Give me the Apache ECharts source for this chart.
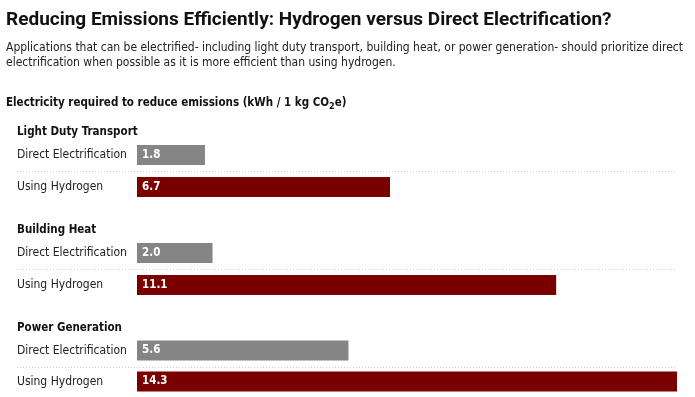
<!DOCTYPE html>
<html>
<head>
<meta charset="utf-8">
<script src="https://cdn.jsdelivr.net/npm/echarts@6/dist/echarts.min.js"></script>
<style>
    html, body { margin: 0; padding: 0; background: #fff; }
    #chart { width: 695px; height: 397px; }
</style>
</head>
<body>
<div id="chart"></div>
<script>
// data
var groups = ['Light Duty Transport', 'Building Heat', 'Power Generation'];
var methods = ['Direct Electrification', 'Using Hydrogen'];
var directValues = [1.8, 2.0, 5.6];
var hydrogenValues = [6.7, 11.1, 14.3];

var colors = ['#858585', '#7a0000'];
var labelFont = '"DejaVu Sans Condensed", Lato, sans-serif';

var gridTop0 = 139, groupStep = 98, rowH = 32, gridLeft = 137, gridRight = 18;

var myChart = echarts.init(document.getElementById('chart'));

var titles = [
    {
        text: 'Reducing Emissions Efficiently: Hydrogen versus Direct Electrification?',
        left: 6, top: 11, padding: 0,
        textStyle: { fontFamily: 'Roboto', fontSize: 19, fontWeight: 'bold', color: '#111' }
    },
    {
        text: 'Applications that can be electrified- including light duty transport, building heat, or power generation- should prioritize direct\nelectrification when possible as it is more efficient than using hydrogen.',
        left: 6, top: 40, padding: 0,
        textStyle: { fontFamily: labelFont, fontSize: 12, fontWeight: 'normal', color: '#222', lineHeight: 15 }
    },
    {
        text: 'Electricity required to reduce emissions (kWh / 1 kg CO{sub|2}e)',
        left: 6, top: 96, padding: 0,
        textStyle: {
            fontFamily: labelFont, fontSize: 11.5, fontWeight: 'bold', color: '#111',
            rich: { sub: { fontFamily: labelFont, fontSize: 9, fontWeight: 'bold', verticalAlign: 'bottom', padding: [6, 0, 0, 0] } }
        }
    }
];

var grids = [], xAxes = [], yAxes = [], series = [], graphics = [];
groups.forEach(function (g, i) {
    var top = gridTop0 + i * groupStep;
    titles.push({
        text: g, left: 17, top: top - 13, padding: 0,
        textStyle: { fontFamily: labelFont, fontSize: 11.5, fontWeight: 'bold', color: '#111' }
    });
    grids.push({ left: gridLeft, right: gridRight, top: top, height: rowH * 2 });
    xAxes.push({ gridIndex: i, type: 'value', min: 0, max: 14.3, show: false });
    yAxes.push({
        gridIndex: i, type: 'category', inverse: true, data: methods,
        axisLine: { show: false }, axisTick: { show: false },
        axisLabel: {
            align: 'left', margin: gridLeft - 17,
            fontFamily: labelFont, fontSize: 12, color: '#222'
        }
    });
    series.push({
        type: 'bar', xAxisIndex: i, yAxisIndex: i, barWidth: 20,
        data: [
            { value: directValues[i], itemStyle: { color: colors[0] } },
            { value: hydrogenValues[i], itemStyle: { color: colors[1] } }
        ],
        label: {
            show: true, position: 'insideLeft', distance: 5,
            fontFamily: labelFont, fontSize: 11.5, fontWeight: 'bold', color: '#fff',
            formatter: function (p) { return p.value.toFixed(1); }
        },
        silent: true
    });
    // dotted divider between the two rows
    graphics.push({
        type: 'line',
        shape: { x1: 17, y1: top + rowH + 0.5, x2: 695 - gridRight, y2: top + rowH + 0.5 },
        style: { stroke: '#cfcfcf', lineWidth: 1, lineDash: [1, 2] }
    });
});

myChart.setOption({
    animation: false,
    title: titles,
    grid: grids,
    xAxis: xAxes,
    yAxis: yAxes,
    series: series,
    graphic: graphics
});
</script>
</body>
</html>
